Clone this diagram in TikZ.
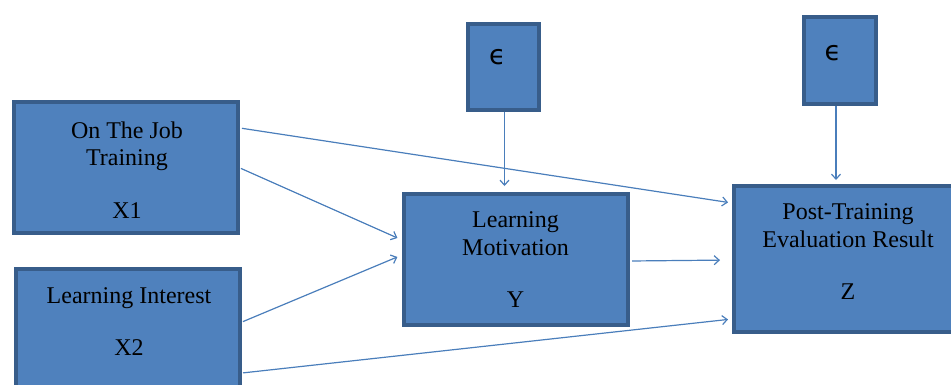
\documentclass[tikz,border=0pt]{standalone}
\usepackage{fontspec}
\setmainfont{Liberation Serif}
\newfontfamily\epsfont{DejaVu Sans}
\usetikzlibrary{arrows.meta}
\definecolor{boxfill}{HTML}{4F81BD}
\definecolor{boxline}{HTML}{385D8A}
\definecolor{arrowcol}{HTML}{4A7EBB}
\tikzset{
  varbox/.style={draw=boxline, fill=boxfill, line width=3.6pt, rectangle, inner sep=0pt},
  boxtext/.style={align=center, inner sep=0pt, font=\fontsize{24}{27.5}\selectfont, text=black},
  epstext/.style={inner sep=0pt, font=\epsfont\fontsize{27}{29}\selectfont, text=black},
  link/.style={draw=arrowcol, line width=1.2pt, -{Straight Barb[length=5pt,width=9pt,line width=1.2pt]}},
}
\begin{document}
\begin{tikzpicture}[x=1pt,y=-1pt]
\useasboundingbox (0,0) rectangle (951,384);
\clip (0,0) rectangle (951,384);
% boxes
\node[varbox, minimum width=224.4pt, minimum height=131.4pt] (X1) at (126,167.5) {};
\node[varbox, minimum width=224.4pt, minimum height=131.4pt] (X2) at (128,334.5) {};
\node[varbox, minimum width=224.4pt, minimum height=131.4pt] (Y) at (516,259.5) {};
\node[varbox, minimum width=224.4pt, minimum height=146.4pt] (Z) at (846,259) {};
\node[varbox, minimum width=71.4pt, minimum height=86.4pt] (E1) at (503.5,67) {};
\node[varbox, minimum width=72.4pt, minimum height=87.4pt] (E2) at (840,60.5) {};
% texts
\node[boxtext] (X1t) at (127,169.7) {On The Job\\Training\\[25pt]X1};
\node[boxtext] (X2t) at (129,321.7) {Learning Interest\\[25pt]X2};
\node[boxtext] (Yt) at (515.5,260) {Learning\\Motivation\\[25pt]Y};
\node[boxtext] (Zt) at (848,251.7) {Post-Training\\Evaluation Result\\[25pt]Z};
\node[epstext] (E1t) at (497.5,56.7) {ϵ};
\node[epstext] (E2t) at (833,52.7) {ϵ};
% connectors
\draw[link, shorten <=2pt, shorten >=4pt] ([yshift=39.5pt]X1.east) -- ([yshift=56pt]Z.west);
\draw[link, shorten <=1pt, shorten >=5pt] ([yshift=-0.5pt]X1.east) -- ([yshift=19.5pt]Y.west);
\draw[link, shorten <=1pt, shorten >=5pt] ([yshift=12.5pt]X2.east) -- ([yshift=4.5pt]Y.west);
\draw[link, shorten <=2pt, shorten >=12pt] ([yshift=-1.5pt]Y.east) -- ([yshift=-1pt]Z.west);
\draw[link, shorten <=1pt, shorten >=4pt] ([yshift=-38.5pt]X2.east) -- ([yshift=-60pt]Z.west);
\draw[link, shorten >=6pt] ([xshift=1pt]E1.south) -- ([xshift=1pt]E1.south |- Y.north);
\draw[link, shorten >=4pt] ([xshift=-4pt]E2.south) -- ([xshift=-4pt]E2.south |- Z.north);
\end{tikzpicture}
\end{document}
